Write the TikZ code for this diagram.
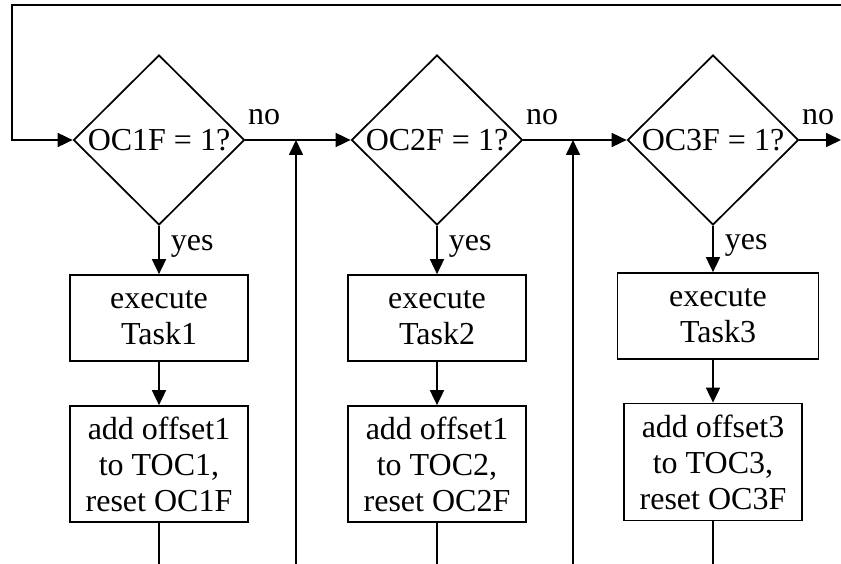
\documentclass[tikz,border=0pt]{standalone}
\usepackage{fontspec}
\setmainfont{Liberation Serif}
\usetikzlibrary{shapes.geometric,arrows.meta,positioning}

\begin{document}
\begin{tikzpicture}[x=1pt,y=-1pt,line width=1.7pt,font=\fontsize{32}{36}\selectfont,
		>={Triangle[length=15pt,width=14pt]}]
		\tikzstyle{dec}=[diamond, draw, minimum width=171pt, minimum height=170pt, inner sep=0pt]
		\tikzstyle{task}=[rectangle, draw, align=center, minimum width=178pt, minimum height=86pt, inner sep=0pt]
		\tikzstyle{upd}=[rectangle, draw, align=center, minimum width=178pt, minimum height=116pt, inner sep=0pt]
		\tikzstyle{lbl}=[inner sep=0pt]

		\useasboundingbox (0,0) rectangle (841,564);

		\node[dec, label=center:{OC1F = 1?}] (D1) at (159,140) {};
		\node[dec, label=center:{OC2F = 1?}] (D2) at (437,140) {};
		\node[dec, label=center:{OC3F = 1?}] (D3) at (713,140) {};

		\node[task] (T1) at (159,318) {execute\\Task1};
		\node[task] (T2) at (437,318) {execute\\Task2};
		\node[task, minimum width=201pt] (T3) at (718,316) {execute\\Task3};

		\node[upd] (U1) at (159,464) {add offset1\\to TOC1,\\reset OC1F};
		\node[upd] (U2) at (437,464) {add offset1\\to TOC2,\\reset OC2F};
		\node[upd, minimum height=117pt] (U3) at (713,462) {add offset3\\to TOC3,\\reset OC3F};

		\node[lbl, above right=14pt and 2pt of D1.east] (N1) {no};
		\node[lbl, above right=14pt and 2pt of D2.east] (N2) {no};
		\node[lbl, above right=14pt and 2pt of D3.east] (N3) {no};

		\coordinate (TL) at (12,5);
		\coordinate (TR) at (841,5);
		\coordinate (R) at (841,140);
		\coordinate (J1) at (296,140);
		\coordinate (J2) at (573,140);
		\coordinate (B1) at (296,564);
		\coordinate (B2) at (573,564);
		\coordinate (L1) at (159,564);
		\coordinate (L2) at (437,564);
		\coordinate (L3) at (713,564);

		\draw [->] (TR) -- (TL) -- (TL |- D1.west) -- (D1.west);
		\draw [->] (D1.east) -- (D2.west);
		\draw [->] (D2.east) -- (D3.west);
		\draw [->] (D3.east) -- (R);
		\draw [->] (B1) -- (J1);
		\draw [->] (B2) -- (J2);

		\draw [->] (D1.south) -- node[lbl, right=11pt, pos=0.42] {yes} (D1.south |- T1.north);
		\draw [->] (D2.south) -- node[lbl, right=11pt, pos=0.42] {yes} (D2.south |- T2.north);
		\draw [->] (D3.south) -- node[lbl, right=11pt, pos=0.42] {yes} (D3.south |- T3.north);

		\draw [->] (T1) -- (U1);
		\draw [->] (T2) -- (U2);
		\draw [->] (D3.south |- T3.south) -- (U3);

		\draw (U1) -- (L1);
		\draw (U2) -- (L2);
		\draw (U3) -- (L3);
\end{tikzpicture}
\end{document}
